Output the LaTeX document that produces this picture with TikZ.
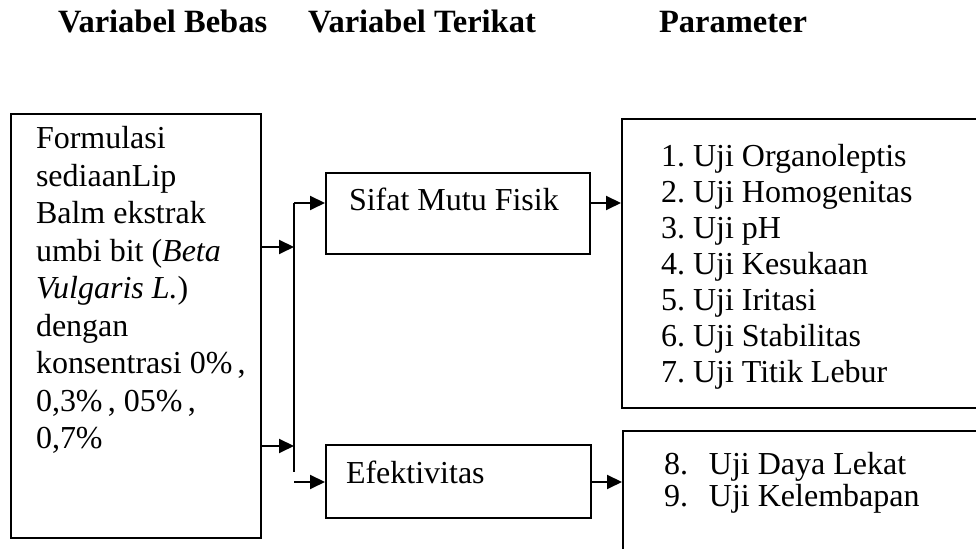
\documentclass[tikz,border=0pt]{standalone}
\usepackage{fontspec}
\setmainfont{Liberation Serif}
\usetikzlibrary{arrows.meta,positioning}

\tikzset{
    box/.style={draw, inner sep=0pt, anchor=north west},
    body/.style={inner sep=0pt, anchor=base west, font=\fontsize{16}{18}\selectfont},
    heading/.style={body, font=\fontsize{16.25}{18}\selectfont\bfseries}
}

\begin{document}
\begin{tikzpicture}[x=0.5pt, y=-0.5pt, line width=1pt, >={Triangle[length=7.5pt,width=7pt]}]
    \clip (0,0) rectangle (976,549);

    % Headings
    \node[heading] (headBebas) at (57,33) {Variabel Bebas};
    \node[heading] (headTerikat) at (307,33) {Variabel Terikat};
    \node[heading] (headParam) at (658,33) {Parameter};

    % Variabel bebas
    \node[box, minimum width=125pt, minimum height=212pt] (Formula) at (10,113) {};
    \node[body] (FormulaText) at (35,149) {\parbox[t]{115pt}{\fontsize{16}{18.75}\selectfont
        Formulasi\\
        sediaanLip\\
        Balm ekstrak\\
        umbi bit (\textit{Beta}\\
        \textit{Vulgaris L.})\\
        dengan\\
        konsentrasi 0\%\,,\\
        0,3\%\,, 05\%\,,\\
        0,7\%}};

    % Variabel terikat
    \node[box, minimum width=132pt, minimum height=40.5pt] (Sifat) at (325,172) {};
    \node[body] (SifatText) at (348,211) {Sifat Mutu Fisik};
    \node[box, minimum width=132.5pt, minimum height=36.5pt] (Efek) at (325,444) {};
    \node[body] (EfekText) at (345,484) {Efektivitas};

    % Parameter
    \node[box, minimum width=184.5pt, minimum height=144.5pt] (ParamA) at (621,118) {};
    \node[body] (ParamAText) at (660,167) {\begin{tabular}[t]{@{}l@{\hspace{4pt}}l@{}}
        1. & Uji Organoleptis\\
        2. & Uji Homogenitas\\
        3. & Uji pH\\
        4. & Uji Kesukaan\\
        5. & Uji Iritasi\\
        6. & Uji Stabilitas\\
        7. & Uji Titik Lebur
    \end{tabular}};
    \node[box, minimum width=184pt, minimum height=70pt] (ParamB) at (622,430) {};
    \node[body] (ParamBText) at (663,475) {\fontsize{16}{15.5}\selectfont
        \begin{tabular}[t]{@{}l@{\hspace{10.5pt}}l@{}}
        8. & Uji Daya Lekat\\
        9. & Uji Kelembapan
    \end{tabular}};

    % Connectors
    \coordinate (trunkTop) at (294,203);
    \coordinate (trunkBot) at (294,472);
    \coordinate (trunkFoot) at (294,482);
    \coordinate (outA) at ([yshift=39.5pt]Formula.east);
    \coordinate (outB) at ([yshift=-60pt]Formula.east);
    \draw (trunkTop) -- (trunkBot);
    \draw[->] (outA) -- (outA -| trunkTop);
    \draw[->] (outB) -- (outB -| trunkTop);
    \draw[->] (trunkTop) -- (Sifat.west |- trunkTop);
    \draw[->] (trunkFoot) -- (Efek.west |- trunkFoot);
    \draw[->] (Sifat.east |- trunkTop) -- (ParamA.west |- trunkTop);
    \draw[->] (Efek.east |- trunkFoot) -- (ParamB.west |- trunkFoot);

\end{tikzpicture}
\end{document}
